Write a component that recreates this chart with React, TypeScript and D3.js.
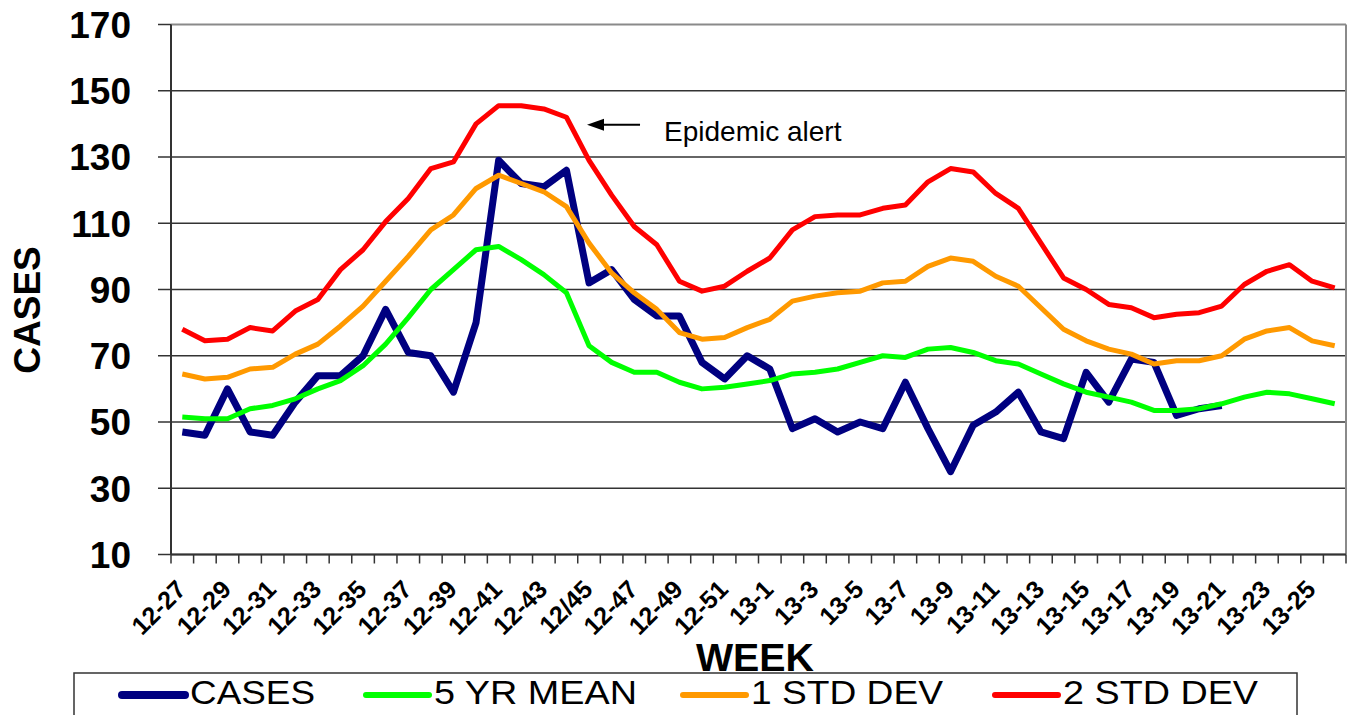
import React from 'react';
import * as d3 from 'd3';

const weeks: string[] = [
  '12-27', '12-28', '12-29', '12-30', '12-31', '12-32', '12-33', '12-34', '12-35', '12-36',
  '12-37', '12-38', '12-39', '12-40', '12-41', '12-42', '12-43', '12-44', '12/45', '12-46',
  '12-47', '12-48', '12-49', '12-50', '12-51', '12-52', '13-1', '13-2', '13-3', '13-4',
  '13-5', '13-6', '13-7', '13-8', '13-9', '13-10', '13-11', '13-12', '13-13', '13-14',
  '13-15', '13-16', '13-17', '13-18', '13-19', '13-20', '13-21', '13-22', '13-23', '13-24',
  '13-25', '13-26',
];

const cases: number[] = [
  47, 46, 60, 47, 46, 56, 64, 64, 70, 84, 71, 70, 59, 80, 129, 122, 121, 126, 92, 96,
  87, 82, 82, 68, 63, 70, 66, 48, 51, 47, 50, 48, 62, 48, 35, 49, 53, 59, 47, 45,
  65, 56, 69, 68, 52, 54, 55,
];

const mean5yr: number[] = [
  51.5, 51, 51, 54, 55, 57, 60, 62.5, 67, 73.5, 81.5, 90, 96, 102, 103, 99, 94.5, 89, 73, 68,
  65, 65, 62, 60, 60.5, 61.5, 62.5, 64.5, 65, 66, 68, 70, 69.5, 72, 72.5, 71, 68.5, 67.5, 64.5, 61.5,
  59, 57.5, 56, 53.5, 53.5, 54, 55.5, 57.5, 59, 58.5, 57, 55.5,
];

const std1: number[] = [
  64.5, 63, 63.5, 66, 66.5, 70.5, 73.5, 79, 85, 92.5, 100, 108, 112.5, 120.5, 124.5, 122, 119.5, 115, 104, 95,
  89, 84, 77, 75, 75.5, 78.5, 81, 86.5, 88, 89, 89.5, 92, 92.5, 97, 99.5, 98.5, 94, 91, 84.5, 78,
  74.5, 72, 70.5, 67.5, 68.5, 68.5, 70, 75, 77.5, 78.5, 74.5, 73,
];

const std2: number[] = [
  78, 74.5, 75, 78.5, 77.5, 83.5, 87, 96, 102, 110.5, 117.5, 126.5, 128.5, 140, 145.5, 145.5, 144.5, 142, 129, 118.5,
  109, 103.5, 92.5, 89.5, 91, 95.5, 99.5, 108, 112, 112.5, 112.5, 114.5, 115.5, 122.5, 126.5, 125.5, 119, 114.5, 104, 93.5,
  90, 85.5, 84.5, 81.5, 82.5, 83, 85, 91.5, 95.5, 97.5, 92.5, 90.5,
];

const yTicks: number[] = [10, 30, 50, 70, 90, 110, 130, 150, 170];

const seriesNames: string[] = ['CASES', '5 YR MEAN', '1 STD DEV', '2 STD DEV'];
const seriesColors: string[] = ['#000080', '#00ff00', '#ff9900', '#ff0000'];
const seriesWidths: number[] = [7, 5, 5, 5];
const seriesValues: number[][] = [cases, mean5yr, std1, std2];

const annotationText = 'Epidemic alert';
const annotationIndex = 18;
const annotationValue = 139.7;

const FONT = '"Liberation Sans", Arial, Helvetica, sans-serif';

const W = 1349;
const H = 715;
const PL = 171;
const PR = 1346;
const PT = 24.5;
const PB = 554.5;

// legend layout
const legendLineStart = [122, 366, 683, 995];
const legendTextLen = [125, 203, 192, 195];

export default function App() {
  const x = d3.scaleBand<number>().domain(weeks.map((_, i) => i)).range([PL, PR]).padding(0);
  const y = d3.scaleLinear().domain([10, 170]).range([PB, PT]);
  const cx = (i: number) => (x(i) as number) + x.bandwidth() / 2;

  const line = d3
    .line<number>()
    .defined((d) => d != null && !isNaN(d))
    .x((_, i) => cx(i))
    .y((d) => y(d));

  const tipX = cx(annotationIndex) - 2;
  const tipY = y(annotationValue);

  return (
    <svg
      width={W}
      height={H}
      style={{ position: 'absolute', left: 0, top: 0, background: '#fff' }}
      fontFamily={FONT}
    >
      <rect x={0} y={0} width={W} height={H} fill="#fff" />
      {/* gridlines */}
      {yTicks.map((t) => (
        <line
          key={'g' + t}
          x1={PL}
          x2={PR}
          y1={y(t)}
          y2={y(t)}
          stroke={t === 170 ? '#8a8a8a' : '#333'}
          strokeWidth={t === 170 ? 2 : 1.5}
        />
      ))}
      {/* right border */}
      <line x1={PR} x2={PR} y1={PT} y2={PB} stroke="#8a8a8a" strokeWidth={2} />
      {/* y ticks */}
      {yTicks.map((t) => (
        <line key={'yt' + t} x1={PL - 13} x2={PL} y1={y(t)} y2={y(t)} stroke="#333" strokeWidth={1.5} />
      ))}
      {yTicks.map((t) => (
        <text
          key={'yl' + t}
          x={131}
          y={y(t)}
          dy="0.36em"
          textAnchor="end"
          fontSize={37}
          fontWeight="bold"
          fill="#000"
        >
          {t}
        </text>
      ))}
      {/* axes */}
      <line x1={PL} x2={PL} y1={PT} y2={PB} stroke="#333" strokeWidth={2} />
      <line x1={PL} x2={PR} y1={PB} y2={PB} stroke="#333" strokeWidth={2} />
      {/* x ticks */}
      {weeks.map((_, i) => (
        <line
          key={'xt' + i}
          x1={x(i) as number}
          x2={x(i) as number}
          y1={PB}
          y2={PB + 9}
          stroke="#333"
          strokeWidth={1.5}
        />
      ))}
      <line x1={PR} x2={PR} y1={PB} y2={PB + 9} stroke="#333" strokeWidth={1.5} />
      {/* x labels */}
      {weeks.map((w, i) =>
        i % 2 === 0 ? (
          <text
            key={'xl' + i}
            transform={`translate(${cx(i) + 5},${591}) rotate(-45)`}
            textAnchor="end"
            fontSize={25}
            fontWeight="bold"
            fill="#000"
          >
            {w}
          </text>
        ) : null
      )}
      {/* series */}
      {seriesValues.map((vals, si) => (
        <path
          key={'s' + si}
          d={line(vals) || ''}
          fill="none"
          stroke={seriesColors[si]}
          strokeWidth={seriesWidths[si]}
          strokeLinejoin="round"
          strokeLinecap="butt"
        />
      ))}
      {/* annotation */}
      <line x1={tipX + 12} x2={tipX + 53} y1={tipY} y2={tipY} stroke="#000" strokeWidth={2} />
      <path d={`M${tipX},${tipY} L${tipX + 17},${tipY - 6} L${tipX + 17},${tipY + 6} Z`} fill="#000" />
      <text x={tipX + 77} y={tipY + 16} fontSize={28} fill="#000">
        {annotationText}
      </text>
      {/* axis titles */}
      <text
        transform={`translate(${40},${310}) rotate(-90)`}
        textAnchor="middle"
        fontSize={37}
        fontWeight="bold"
        fill="#000"
      >
        CASES
      </text>
      <text x={755} y={671} textAnchor="middle" fontSize={38} fontWeight="bold" fill="#000" textLength={118} lengthAdjust="spacingAndGlyphs">
        WEEK
      </text>
      {/* legend */}
      <rect x={74} y={673} width={1223} height={70} fill="#fff" stroke="#333" strokeWidth={1.5} />
      {seriesNames.map((n, i) => (
        <g key={'lg' + i}>
          <line
            x1={legendLineStart[i]}
            x2={legendLineStart[i] + 63}
            y1={695}
            y2={695}
            stroke={seriesColors[i]}
            strokeWidth={seriesWidths[i] + 1}
            strokeLinecap="round"
          />
          <text
            x={legendLineStart[i] + 68}
            y={704}
            fontSize={34}
            fill="#000"
            textLength={legendTextLen[i]}
            lengthAdjust="spacingAndGlyphs"
          >
            {n}
          </text>
        </g>
      ))}
    </svg>
  );
}
